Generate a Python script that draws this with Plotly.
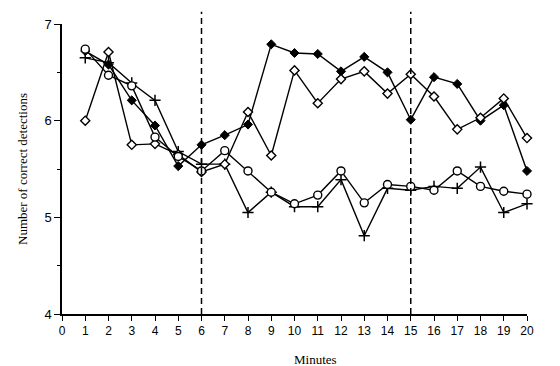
import plotly.graph_objects as go

minutes = list(range(1, 21))
filled_diamond = [6.72, 6.58, 6.21, 5.95, 5.53, 5.75, 5.85, 5.96, 6.79, 6.70,
                  6.69, 6.51, 6.66, 6.50, 6.01, 6.45, 6.38, 6.00, 6.16, 5.48]
open_circle = [6.74, 6.47, 6.36, 5.83, 5.63, 5.48, 5.69, 5.48, 5.26, 5.14,
               5.23, 5.48, 5.15, 5.34, 5.32, 5.28, 5.48, 5.32, 5.27, 5.24]
plus_series = [6.65, 6.60, 6.39, 6.21, 5.68, 5.55, 5.55, 5.05, 5.26, 5.11,
               5.11, 5.39, 4.81, 5.30, 5.28, 5.32, 5.30, 5.52, 5.05, 5.14]
open_diamond = [6.00, 6.71, 5.75, 5.76, 5.65, 5.47, 5.55, 6.09, 5.64, 6.52,
                6.18, 6.43, 6.51, 6.28, 6.48, 6.25, 5.91, 6.03, 6.23, 5.82]
x_ticks = list(range(0, 21))
y_ticks = [4, 5, 6, 7]
phase_breaks = [6, 15]

fig = go.Figure()
line = dict(color="black", width=1.4)

fig.add_trace(go.Scatter(x=minutes, y=filled_diamond, mode="lines+markers", line=line,
                         marker=dict(symbol="diamond", size=7, color="black",
                                     line=dict(color="black", width=1)),
                         cliponaxis=False))
fig.add_trace(go.Scatter(x=minutes, y=plus_series, mode="lines+markers", line=line,
                         marker=dict(symbol="cross-thin-open", size=8,
                                     line=dict(color="black", width=1.5)),
                         cliponaxis=False))
fig.add_trace(go.Scatter(x=minutes, y=open_diamond, mode="lines+markers", line=line,
                         marker=dict(symbol="diamond", size=7, color="white",
                                     line=dict(color="black", width=1.4)),
                         cliponaxis=False))
fig.add_trace(go.Scatter(x=minutes, y=open_circle, mode="lines+markers", line=line,
                         marker=dict(symbol="circle", size=8, color="white",
                                     line=dict(color="black", width=1.4)),
                         cliponaxis=False))

for b in phase_breaks:
    fig.add_shape(type="line", xref="x", yref="paper", x0=b, x1=b, y0=0, y1=1.042,
                  line=dict(color="black", width=1.5, dash="6px,4px"))

fig.add_annotation(text="Minutes", xref="paper", yref="paper", x=0.545, y=-0.125,
                   xanchor="center", yanchor="top", showarrow=False,
                   font=dict(family="Liberation Serif", size=13, color="black"))

fig.update_layout(
    width=560, height=366,
    margin=dict(l=61.5, r=33, t=24, b=52),
    paper_bgcolor="white", plot_bgcolor="white",
    showlegend=False,
    font=dict(family="Liberation Sans", size=12, color="black"),
    xaxis=dict(range=[0, 20], tickvals=x_ticks, ticks="outside", ticklen=5,
               tickwidth=1.3, tickcolor="black", showline=True, linecolor="black",
               linewidth=1.5, showgrid=False, zeroline=False,
               tickfont=dict(family="Liberation Sans", size=12)),
    yaxis=dict(range=[4, 7], tickvals=y_ticks, ticks="outside", ticklen=6,
               tickwidth=1.3, tickcolor="black", showline=True, linecolor="black",
               linewidth=1.5, showgrid=False, zeroline=False,
               minor=dict(dtick=0.5, ticks="outside", ticklen=3, tickcolor="black"),
               tickfont=dict(family="Liberation Sans", size=13),
               title=dict(text="Number of correct detections", standoff=14,
                          font=dict(family="Liberation Serif", size=13))),
)

fig.write_html("out.html")
